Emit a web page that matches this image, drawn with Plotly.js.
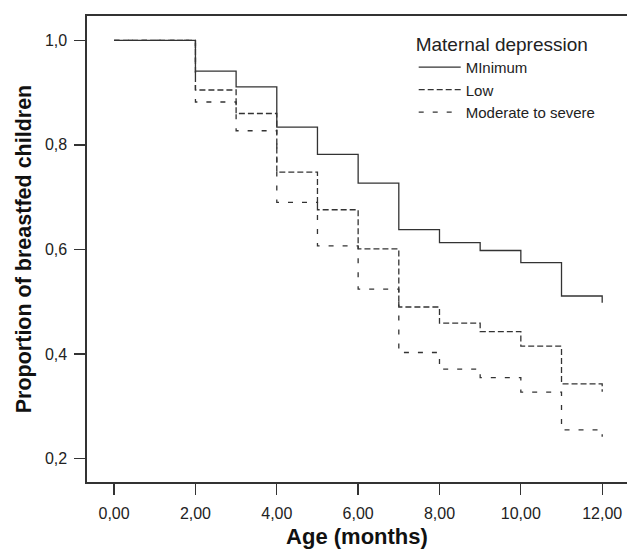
<!DOCTYPE html>
<html>
<head>
<meta charset="utf-8">
<script src="https://cdn.plot.ly/plotly-3.0.1.min.js"></script>
<style>html,body{margin:0;padding:0;background:#fff}#chart{width:627px;height:549px}</style>
</head>
<body>
<div id="chart"></div>
<script>
// Age (months) at which each step starts
var months = [0, 2, 3, 4, 5, 6, 7, 8, 9, 10, 11, 12];
var minimum = [1.0, 0.941, 0.911, 0.834, 0.782, 0.727, 0.638, 0.613, 0.598, 0.575, 0.511, 0.498];
var low = [1.0, 0.905, 0.860, 0.748, 0.676, 0.601, 0.490, 0.459, 0.443, 0.415, 0.343, 0.328];
var moderate = [1.0, 0.882, 0.827, 0.690, 0.607, 0.524, 0.403, 0.371, 0.355, 0.327, 0.255, 0.242];
var seriesNames = ["MInimum", "Low", "Moderate to severe"];
var xTickVals = [0, 2, 4, 6, 8, 10, 12];
var xTickText = ["0,00", "2,00", "4,00", "6,00", "8,00", "10,00", "12,00"];
var yTickVals = [0.2, 0.4, 0.6, 0.8, 1.0];
var yTickText = ["0,2", "0,4", "0,6", "0,8", "1,0"];

var lineColor = "#333333";
var traces = [
  {x: months, y: moderate, name: seriesNames[2], mode: "lines", line: {shape: "hv", color: lineColor, width: 1.3, dash: "5px,9px"}},
  {x: months, y: low, name: seriesNames[1], mode: "lines", line: {shape: "hv", color: lineColor, width: 1.3, dash: "6px,3px"}},
  {x: months, y: minimum, name: seriesNames[0], mode: "lines", line: {shape: "hv", color: lineColor, width: 1.3}}
];

var font = "'Liberation Sans', Arial, Helvetica, sans-serif";
var layout = {
  width: 627, height: 549,
  margin: {l: 87, r: 0, t: 16, b: 67, pad: 0},
  paper_bgcolor: "#fff", plot_bgcolor: "#fff",
  font: {family: font, color: "#222", size: 16},
  showlegend: true,
  legend: {
    x: 0.605, y: 0.978, xanchor: "left", yanchor: "top",
    traceorder: "reversed",
    title: {text: "Maternal depression", font: {size: 19, family: font, color: "#222"}},
    font: {size: 15, family: font, color: "#222"},
    bgcolor: "rgba(0,0,0,0)", itemwidth: 42, tracegroupgap: 0
  },
  xaxis: {
    range: [-0.666, 12.61], tickmode: "array", tickvals: xTickVals, ticktext: xTickText,
    showgrid: false, zeroline: false, showline: true, mirror: true, linecolor: "#333", linewidth: 1.6,
    ticks: "outside", ticklen: 11, tickwidth: 1.3, tickcolor: "#333",
    tickfont: {size: 16, family: font, color: "#222"}, ticklabelstandoff: 5,
    title: {text: "Age (months)", font: {size: 22, family: font, color: "#111", weight: "bold"}, standoff: 9}
  },
  yaxis: {
    range: [0.1553, 1.0465], tickmode: "array", tickvals: yTickVals, ticktext: yTickText,
    showgrid: false, zeroline: false, showline: true, linecolor: "#333", linewidth: 1.6,
    ticks: "outside", ticklen: 11, tickwidth: 1.3, tickcolor: "#333",
    tickfont: {size: 16, family: font, color: "#222"}, ticklabelstandoff: 4,
    title: {text: "Proportion of breastfed children", font: {size: 21.5, family: font, color: "#111", weight: "bold"}, standoff: 7}
  }
};
Plotly.newPlot("chart", traces, layout, {displayModeBar: false, staticPlot: true});
</script>
</body>
</html>
